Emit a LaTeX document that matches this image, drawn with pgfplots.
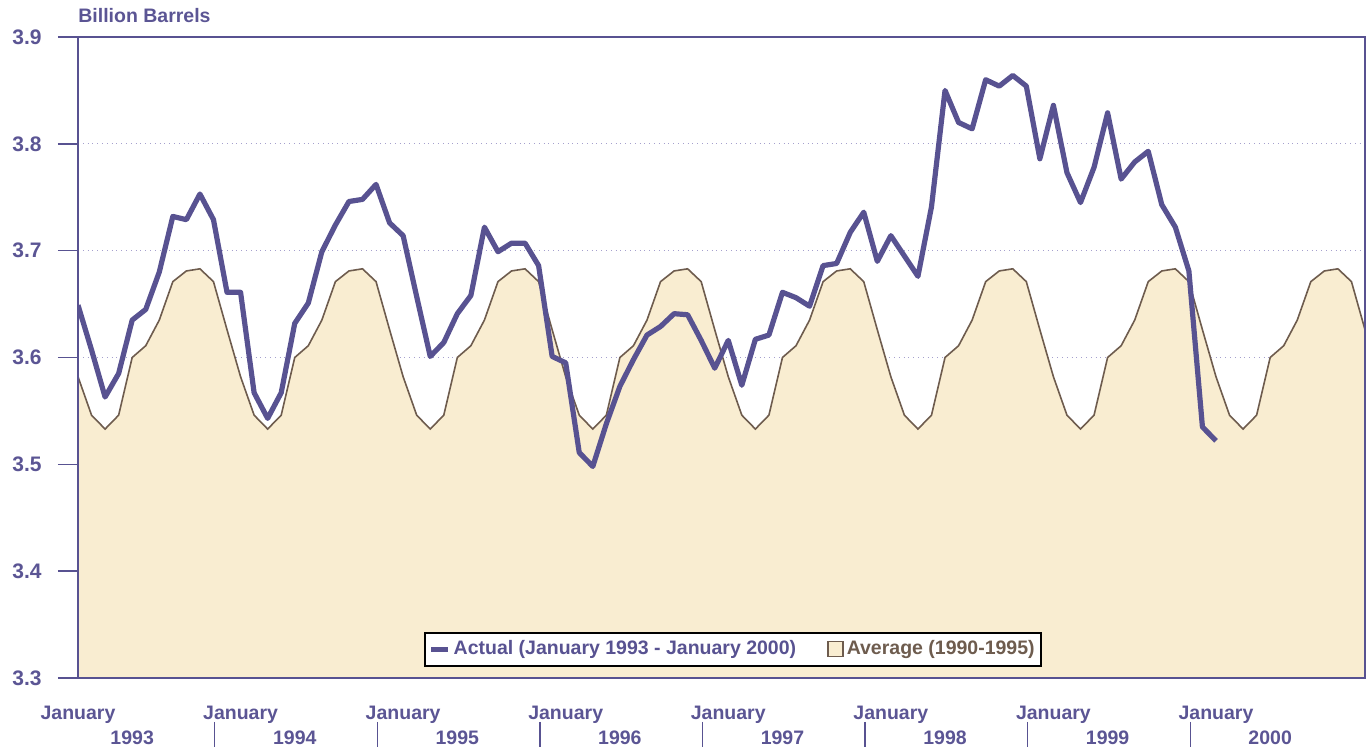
\documentclass[border=0pt]{standalone}
\usepackage{pgfplots}
\usepackage{pgfplotstable}
\pgfplotsset{compat=1.18}
\usepackage{fontspec}
\setmainfont{Liberation Sans}
\usetikzlibrary{calc}

\definecolor{eiapurple}{RGB}{88,82,145}
\definecolor{textpurple}{RGB}{91,85,148}
\definecolor{avgfill}{RGB}{249,237,209}
\definecolor{avgline}{RGB}{110,92,78}
\definecolor{gridpurple}{RGB}{165,160,205}

\pgfplotsset{
  linelegend/.style={legend image code/.code={\draw[##1] (0pt,0pt) -- (8.5pt,0pt);}},
  boxlegend/.style={legend image code/.code={\draw[##1] (0pt,-3.75pt) rectangle (7.5pt,3.75pt);}},
}

% month index: 0 = January 1993
\pgfplotstableread{
m v
0 3.649
1 3.607
2 3.563
3 3.585
4 3.635
5 3.645
6 3.680
7 3.732
8 3.729
9 3.753
10 3.729
11 3.661
12 3.661
13 3.567
14 3.543
15 3.567
16 3.632
17 3.651
18 3.699
19 3.724
20 3.746
21 3.748
22 3.762
23 3.726
24 3.714
25 3.657
26 3.601
27 3.614
28 3.641
29 3.658
30 3.722
31 3.699
32 3.707
33 3.707
34 3.686
35 3.601
36 3.595
37 3.511
38 3.498
39 3.538
40 3.573
41 3.598
42 3.621
43 3.629
44 3.641
45 3.640
46 3.616
47 3.590
48 3.616
49 3.574
50 3.617
51 3.621
52 3.661
53 3.656
54 3.648
55 3.686
56 3.688
57 3.717
58 3.736
59 3.690
60 3.714
61 3.695
62 3.676
63 3.741
64 3.850
65 3.820
66 3.814
67 3.860
68 3.854
69 3.864
70 3.854
71 3.786
72 3.836
73 3.773
74 3.745
75 3.778
76 3.829
77 3.767
78 3.783
79 3.793
80 3.743
81 3.722
82 3.681
83 3.535
84 3.522
}\actual

% 1990-1995 average, repeated for each year shown
\pgfplotstableread{
m v
0 3.582
1 3.546
2 3.533
3 3.546
4 3.600
5 3.611
6 3.635
7 3.671
8 3.681
9 3.683
10 3.671
11 3.626
12 3.582
13 3.546
14 3.533
15 3.546
16 3.600
17 3.611
18 3.635
19 3.671
20 3.681
21 3.683
22 3.671
23 3.626
24 3.582
25 3.546
26 3.533
27 3.546
28 3.600
29 3.611
30 3.635
31 3.671
32 3.681
33 3.683
34 3.671
35 3.626
36 3.582
37 3.546
38 3.533
39 3.546
40 3.600
41 3.611
42 3.635
43 3.671
44 3.681
45 3.683
46 3.671
47 3.626
48 3.582
49 3.546
50 3.533
51 3.546
52 3.600
53 3.611
54 3.635
55 3.671
56 3.681
57 3.683
58 3.671
59 3.626
60 3.582
61 3.546
62 3.533
63 3.546
64 3.600
65 3.611
66 3.635
67 3.671
68 3.681
69 3.683
70 3.671
71 3.626
72 3.582
73 3.546
74 3.533
75 3.546
76 3.600
77 3.611
78 3.635
79 3.671
80 3.681
81 3.683
82 3.671
83 3.626
84 3.582
85 3.546
86 3.533
87 3.546
88 3.600
89 3.611
90 3.635
91 3.671
92 3.681
93 3.683
94 3.671
95 3.626
}\average

\begin{document}
\begin{tikzpicture}
\begin{axis}[
    name=ax, at={(0,0)}, anchor=south west,
    scale only axis, width=643.5pt, height=320.5pt,
    xmin=0, xmax=95, ymin=3.3, ymax=3.9,
    axis line style={eiapurple, line width=0.8pt},
    ytick={3.3,3.4,3.5,3.6,3.7,3.8,3.9},
    yticklabels={3.3,3.4,3.5,3.6,3.7,3.8,3.9},
    ytick pos=left, tick align=outside, major tick length=10pt,
    ytick style={eiapurple, line width=0.8pt},
    xtick={0,12,...,84},
    xticklabels={January,January,January,January,January,January,January,January},
    xtick style={draw=none},
    extra x ticks={4,16,...,88},
    extra x tick labels={1993,1994,1995,1996,1997,1998,1999,2000},
    extra x tick style={xticklabel style={yshift=-12pt}},
    tick label style={font=\bfseries\fontsize{9.75}{11}\selectfont, text=textpurple, inner sep=0pt},
    xticklabel style={anchor=north, yshift=-4pt},
    yticklabel style={anchor=east, xshift=-8pt, font=\bfseries\fontsize{10.5}{12}\selectfont},
    ymajorgrids, grid style={dotted, gridpurple, line width=0.5pt},
    title={Billion Barrels},
    title style={at={(0,1)}, anchor=base west, yshift=1pt, inner sep=0pt,
                 font=\bfseries\fontsize{9.75}{11}\selectfont, text=textpurple},
    legend columns=2,
    legend style={at={(0.509,0.045)}, anchor=center, draw=black, line width=1pt,
                  fill=white, font=\bfseries\fontsize{9.75}{11}\selectfont,
                  inner xsep=1.5pt, inner ysep=2pt,
                  nodes={inner xsep=1.5pt},
                  /tikz/every even column/.append style={column sep=14pt}},
]
\addplot[fill=avgfill, draw=none, forget plot] table[x=m, y=v] {\average} \closedcycle;
\addplot[avgline, line width=0.8pt, forget plot] table[x=m, y=v] {\average};
\addplot[eiapurple, line width=2.6pt, line join=round, linelegend]
    table[x=m, y=v] {\actual};
\addlegendentry{\textcolor{eiapurple}{Actual (January 1993 - January 2000)}}
\addlegendimage{area legend, fill=avgfill, draw=avgline, line width=0.8pt, boxlegend}
\addlegendentry{\textcolor{avgline}{Average (1990-1995)}}
\end{axis}
\draw[eiapurple, line width=0.8pt] (ax.south west) rectangle (ax.north east);
\foreach \m in {10.05,22.1,34.1,46.1,58.1,70.1,82.1} {
  \draw[eiapurple, line width=0.6pt]
    ($(ax.south west)!{\m/95}!(ax.south east)$) ++(0,-22pt) -- ++(0,-12.5pt);
}
\pgfresetboundingbox
\useasboundingbox (-39pt,-34.5pt) rectangle (644.5pt,339pt);
\end{tikzpicture}
\end{document}
